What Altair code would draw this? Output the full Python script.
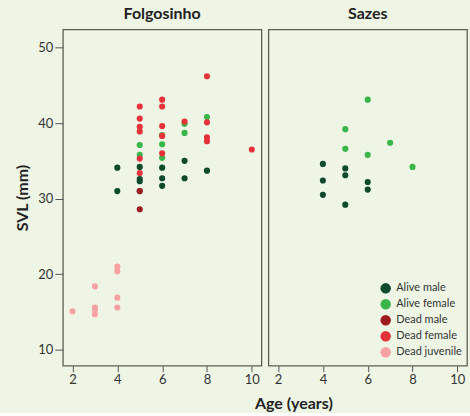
import altair as alt
import pandas as pd

# ---- data ----
status_order = ["Alive male", "Alive female", "Dead male", "Dead female", "Dead juvenile"]
status_colors = ["#0d4a2b", "#3ab54a", "#9e1c20", "#e5323a", "#f7a1a3"]

# Folgosinho
folg_alive_male_age = [4, 4, 5, 5, 5, 5, 6, 6, 6, 7, 7, 8]
folg_alive_male_svl = [34.1, 31.0, 34.2, 32.6, 32.3, 31.0, 34.1, 32.7, 31.7, 35.0, 32.7, 33.7]
folg_alive_female_age = [5, 5, 6, 6, 6, 7, 7, 8]
folg_alive_female_svl = [37.1, 35.8, 38.4, 37.2, 35.4, 39.9, 38.7, 40.8]
folg_dead_male_age = [5, 5]
folg_dead_male_svl = [31.0, 28.6]
folg_dead_female_age = [5, 5, 5, 5, 5, 5, 6, 6, 6, 6, 6, 7, 8, 8, 8, 8, 10]
folg_dead_female_svl = [42.2, 40.6, 39.5, 38.9, 35.3, 33.4, 43.1, 42.2, 39.6, 38.3, 36.0,
                        40.2, 46.2, 40.1, 38.1, 37.6, 36.5]
folg_dead_juv_age = [2, 3, 3, 3, 3, 4, 4, 4, 4]
folg_dead_juv_svl = [15.1, 18.4, 15.6, 15.3, 14.7, 21.0, 20.4, 16.9, 15.6]

# Sazes
saz_alive_male_age = [4, 4, 4, 5, 5, 5, 6, 6]
saz_alive_male_svl = [34.6, 32.4, 30.5, 34.0, 33.1, 29.2, 32.2, 31.2]
saz_alive_female_age = [5, 5, 6, 6, 7, 8]
saz_alive_female_svl = [39.2, 36.6, 43.1, 35.8, 37.4, 34.2]

x_ticks = [2, 4, 6, 8, 10]
y_ticks = [10, 20, 30, 40, 50]

rows = []
def add(site, status, ages, svls):
    for a, s in zip(ages, svls):
        rows.append({"site": site, "status": status, "age": a, "svl": s})

add("Folgosinho", "Alive male", folg_alive_male_age, folg_alive_male_svl)
add("Folgosinho", "Alive female", folg_alive_female_age, folg_alive_female_svl)
add("Folgosinho", "Dead male", folg_dead_male_age, folg_dead_male_svl)
add("Folgosinho", "Dead female", folg_dead_female_age, folg_dead_female_svl)
add("Folgosinho", "Dead juvenile", folg_dead_juv_age, folg_dead_juv_svl)
add("Sazes", "Alive male", saz_alive_male_age, saz_alive_male_svl)
add("Sazes", "Alive female", saz_alive_female_age, saz_alive_female_svl)
df = pd.DataFrame(rows)

FONT = "Lato"
BG = "#eef5e5"

color = alt.Color(
    "status:N",
    scale=alt.Scale(domain=status_order, range=status_colors),
    legend=alt.Legend(
        title=None, orient="none", legendX=318, legendY=254,
        symbolType="circle", symbolSize=110, symbolStrokeWidth=0,
        labelFont=FONT, labelFontSize=11, labelColor="#333333",
        rowPadding=4, labelOffset=5, padding=0,
    ),
)

def panel(site, show_y, show_xtitle):
    common = dict(
        values=x_ticks, tickSize=6, domain=False, grid=False,
        labelFont=FONT, labelFontSize=13, labelColor="#333333", labelPadding=2,
        tickColor="#555555",
        titleFont=FONT, titleFontSize=16, titleFontWeight="bold", titleColor="#222222",
        titlePadding=9,
    )
    if show_xtitle:
        xaxis = alt.Axis(title="Age (years)", titleX=25, **common)
    else:
        xaxis = alt.Axis(title=None, **common)
    if show_y:
        yaxis = alt.Axis(
            values=y_ticks, tickSize=8, domain=False, grid=False,
            labelFont=FONT, labelFontSize=13, labelColor="#333333", labelPadding=2,
            tickColor="#555555",
            title="SVL (mm)", titleFont=FONT, titleFontSize=16, titleFontWeight="bold",
            titleColor="#222222", titlePadding=7,
        )
    else:
        yaxis = None
    return (
        alt.Chart(df)
        .transform_filter(alt.datum.site == site)
        .mark_circle(size=38, opacity=1)
        .encode(
            x=alt.X("age:Q", scale=alt.Scale(domain=[1.57, 10.43], nice=False, zero=False), axis=xaxis),
            y=alt.Y("svl:Q", scale=alt.Scale(domain=[7.9, 52.4], nice=False, zero=False), axis=yaxis),
            color=color,
        )
        .properties(
            width=199, height=337,
            title=alt.TitleParams(site, font=FONT, fontSize=16, fontWeight="bold",
                                  color="#222222", offset=7, anchor="middle"),
        )
    )

left = panel("Folgosinho", True, False)
right = panel("Sazes", False, True)

chart = (
    alt.hconcat(left, right, spacing=7, bounds="flush")
    .properties(background=BG, padding={"left": 14, "top": 5, "right": 2, "bottom": 0})
    .configure_view(stroke="#5b5f52", strokeWidth=1.3, fill=BG)
)

chart.save("out.html", embed_options={"renderer": "svg", "actions": False})
